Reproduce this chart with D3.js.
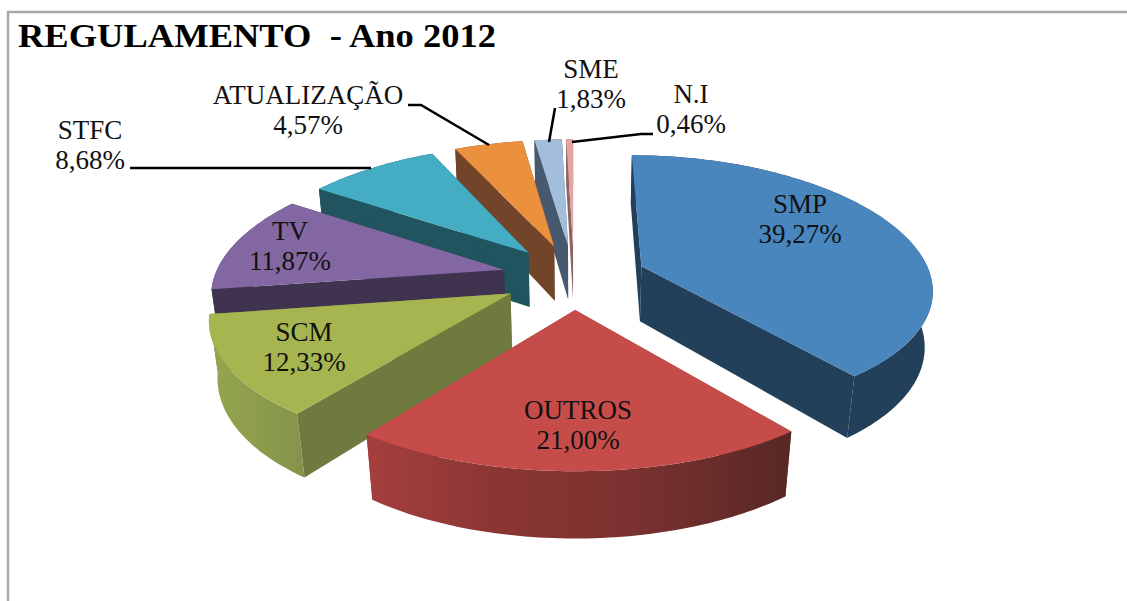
<!DOCTYPE html>
<html>
<head>
<meta charset="utf-8">
<script src="https://cdn.jsdelivr.net/npm/d3@7"></script>
<style>
  html, body { margin: 0; padding: 0; background: #fff; }
  svg { display: block; }
  text { font-family: "Liberation Serif", serif; fill: #111; }
</style>
</head>
<body>
<svg id="chart"></svg>
<script>
const categories = ["SMP", "OUTROS", "SCM", "TV", "STFC", "ATUALIZAÇÃO", "SME", "N.I"]
const values = [39.27, 21.00, 12.33, 11.87, 8.68, 4.57, 1.83, 0.46]
const value_labels = ["39,27%", "21,00%", "12,33%", "11,87%", "8,68%", "4,57%", "1,83%", "0,46%"]
const title_text = "REGULAMENTO  - Ano 2012"

const top_colors = ["#4A86BE", "#C64C4A", "#A6B54F", "#8267A3", "#44ADC3", "#EB913D", "#A3BEDC", "#E6A5A3"]
const wall_colors = ["#22405A", "#8A3533", "#6F7B3E", "#3F3350", "#20545F", "#72452B", "#46596F", "#8A6463"]

const width = 1127
const height = 601

// perspective fitted to the picture: vanishing point above the pie, pie radius = 1
const cx = 574
const horizon = -660
const depth = 7.27
const scale_x = 2170
const scale_y = 6810
const extrude = 405
const vanish_low = 2800
const explode = 0.25

function project(X, Z, h) {
    let w = depth + Z
    let y_top = horizon + scale_y / w
    let y = horizon + (scale_y + h * extrude) / w
    // far side of the pie is a bit narrower than plain perspective gives
    let narrow = 1 - 0.03 * (Z + 1.25) / 1.25
    let x = cx + scale_x * X * narrow / w
    x += (cx - x) * (y - y_top) / (vanish_low - y_top)
    return [x, y]
}

const svg = d3.select("#chart")
    .attr("width", width)
    .attr("height", height)

svg.append("rect")
    .attr("x", 8).attr("y", 12)
    .attr("width", width).attr("height", height)
    .attr("fill", "#fff")
    .attr("stroke", "#A9A9A9")
    .attr("stroke-width", 2.5)

svg.append("text")
    .attr("x", 18).attr("y", 47)
    .attr("font-size", 34)
    .attr("font-weight", "bold")
    .attr("textLength", 478)
    .attr("lengthAdjust", "spacingAndGlyphs")
    .style("white-space", "pre")
    .style("fill", "#000")
    .text(title_text)

let defs = svg.append("defs")
let outros_grad = defs.append("linearGradient").attr("id", "outer1")
outros_grad.selectAll("stop")
    .data([[0, "#A53F3D"], [0.3, "#8B3634"], [0.6, "#7C3230"], [1, "#572825"]])
    .enter().append("stop")
    .attr("offset", d => d[0])
    .attr("stop-color", d => d[1])
let scm_grad = defs.append("linearGradient").attr("id", "outer2")
scm_grad.selectAll("stop")
    .data([[0, "#95A64F"], [1, "#84934A"]])
    .enter().append("stop")
    .attr("offset", d => d[0])
    .attr("stop-color", d => d[1])

const pie = d3.pie().sort(null).value(d => d)
const line = d3.line()

let slices = pie(values).map((d, i) => {
    let mid = (d.startAngle + d.endAngle) / 2
    return {
        i: i,
        a0: d.startAngle,
        a1: d.endAngle,
        ox: Math.sin(mid) * explode,
        oz: Math.cos(mid) * explode
    }
})

function rim(s, h) {
    let n = Math.max(2, Math.ceil((s.a1 - s.a0) / 0.02))
    return d3.range(n + 1).map(k => {
        let a = s.a0 + (s.a1 - s.a0) * k / n
        return project(s.ox + Math.sin(a), s.oz + Math.cos(a), h)
    })
}

function radial_wall(s, a) {
    return [
        project(s.ox, s.oz, 0),
        project(s.ox + Math.sin(a), s.oz + Math.cos(a), 0),
        project(s.ox + Math.sin(a), s.oz + Math.cos(a), 1),
        project(s.ox, s.oz, 1)
    ]
}

// far slices first so nearer ones paint over them
slices.sort((a, b) => b.oz - a.oz)

let groups = svg.append("g").selectAll("g")
    .data(slices)
    .enter().append("g")

groups.append("path")
    .attr("d", d => line(radial_wall(d, d.a0)) + "Z")
    .attr("fill", d => wall_colors[d.i])
groups.append("path")
    .attr("d", d => line(radial_wall(d, d.a1)) + "Z")
    .attr("fill", d => wall_colors[d.i])
groups.append("path")
    .attr("d", d => line(rim(d, 0).concat(rim(d, 1).reverse())) + "Z")
    .attr("fill", d => (d.i == 1 || d.i == 2) ? "url(#outer" + d.i + ")" : wall_colors[d.i])
groups.append("path")
    .attr("d", d => line([project(d.ox, d.oz, 0)].concat(rim(d, 0))) + "Z")
    .attr("fill", d => top_colors[d.i])

const leaders = [
    [[130, 168], [371, 168]],
    [[408, 105], [421, 105], [489, 145]],
    [[555, 108], [549, 142]],
    [[653, 134], [641, 134], [572, 142]]
]
svg.append("g").selectAll("path")
    .data(leaders)
    .enter().append("path")
    .attr("d", d => line(d))
    .attr("fill", "none")
    .attr("stroke", "#000")
    .attr("stroke-width", 2.5)

const label_x = [800, 578, 304, 290, 90, 308, 591, 691]
const label_y = [213, 419, 341, 240, 139, 104, 78, 103]

let labels = svg.append("g").selectAll("text")
    .data(categories)
    .enter().append("text")
    .attr("text-anchor", "middle")
    .attr("font-size", 27)
labels.append("tspan")
    .attr("x", (d, i) => label_x[i])
    .attr("y", (d, i) => label_y[i])
    .text(d => d)
labels.append("tspan")
    .attr("x", (d, i) => label_x[i])
    .attr("y", (d, i) => label_y[i] + 30)
    .text((d, i) => value_labels[i])
</script>
</body>
</html>
